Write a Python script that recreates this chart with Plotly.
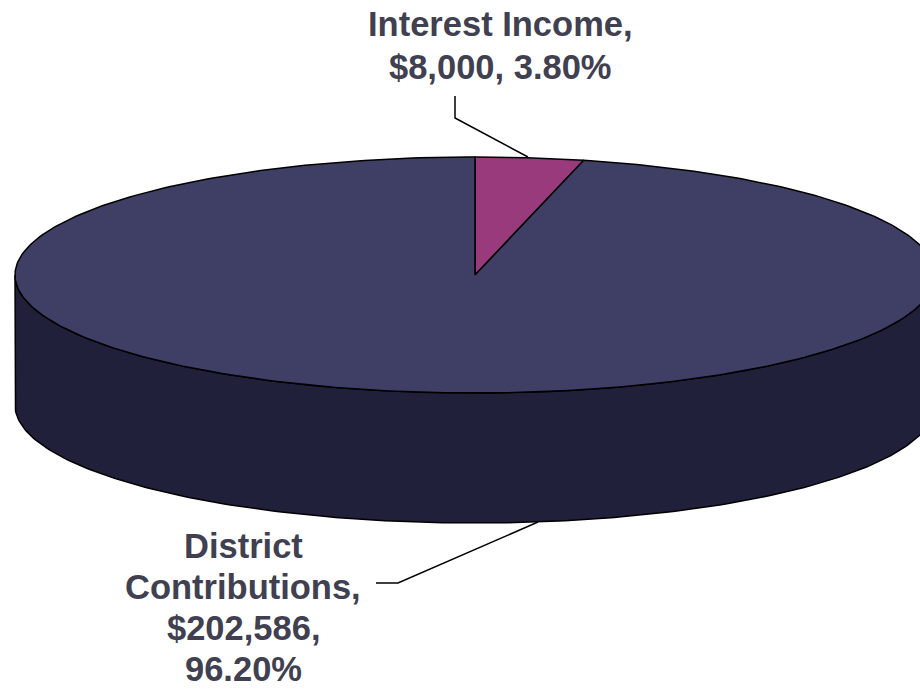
import numpy as np
import plotly.graph_objects as go

# ---- data ----
labels = ["Interest Income", "District Contributions"]
values = [8000, 202586]
label_lines = [["Interest Income,", "$8,000, 3.80%"],
               ["District", "Contributions,", "$202,586,", "96.20%"]]

# ---- styling / geometry ----
top_colors = ["#993A7C", "#3F3F66"]
side_colors = ["#5C2249", "#20203A"]
text_color = "#404050"
W, H = 920, 690
cx, cy, rx, ry, depth = 475, 275, 460, 118, 130

def pt(theta_deg, dy=0):
    t = np.radians(theta_deg)
    return cx + rx * np.sin(t), cy - ry * np.cos(t) + dy

total = float(sum(values))
fracs = [v / total for v in values]
starts = np.concatenate([[0], np.cumsum(fracs)[:-1]]) * 360
ends = np.cumsum(fracs) * 360

fig = go.Figure()

# side walls (front half: theta 90..270) per slice
for i in range(len(values)):
    a0 = max(starts[i], 90)
    a1 = min(ends[i], 270)
    if a1 <= a0:
        continue
    th = np.linspace(a0, a1, 200)
    xs_t, ys_t = pt(th)
    xs_b, ys_b = pt(th[::-1], depth)
    xs = np.concatenate([xs_t, xs_b, [xs_t[0]]])
    ys = np.concatenate([ys_t, ys_b, [ys_t[0]]])
    fig.add_trace(go.Scatter(x=xs, y=ys, fill="toself", fillcolor=side_colors[i],
                             mode="lines", line=dict(color="black", width=1.5),
                             hoverinfo="skip", showlegend=False))

# top faces
for i in range(len(values)):
    th = np.linspace(starts[i], ends[i], 400)
    xa, ya = pt(th)
    xs = np.concatenate([[cx], xa, [cx]])
    ys = np.concatenate([[cy], ya, [cy]])
    fig.add_trace(go.Scatter(x=xs, y=ys, fill="toself", fillcolor=top_colors[i],
                             mode="lines", line=dict(color="black", width=1.5),
                             hoverinfo="skip", showlegend=False, name=labels[i]))

# leader lines
leaders = [
    ([528, 455, 455], [157, 118, 96]),
    ([538, 398, 376], [522, 583, 583]),
]
for lx, ly in leaders:
    fig.add_trace(go.Scatter(x=lx, y=ly, mode="lines",
                             line=dict(color="black", width=1.5),
                             hoverinfo="skip", showlegend=False))

font = dict(family="Liberation Sans, Arial, sans-serif", size=34.5, color=text_color)

# Interest label: line centres from the top
for k, line in enumerate(label_lines[0]):
    fig.add_annotation(x=500, y=24 + k * 42.5, text="<b>" + line + "</b>",
                       showarrow=False, xanchor="center", yanchor="middle", font=font)

# District label: stacked upwards from the bottom edge
n = len(label_lines[1])
for k, line in enumerate(label_lines[1]):
    fig.add_annotation(x=243, y=H - (n - 1 - k) * 41, text="<b>" + line + "</b>",
                       showarrow=False, xanchor="center", yanchor="bottom", font=font)

fig.update_layout(
    width=W, height=H, margin=dict(l=0, r=0, t=0, b=0),
    paper_bgcolor="white", plot_bgcolor="white",
    xaxis=dict(range=[0, W], visible=False, fixedrange=True),
    yaxis=dict(range=[H, 0], visible=False, fixedrange=True),
)

fig.write_html("out.html", config={"displayModeBar": False})

# remove default page margin so the figure fills the window exactly
with open("out.html", "r", encoding="utf-8") as f:
    html = f.read()
html = html.replace("<head>", "<head><style>html,body{margin:0;padding:0;overflow:hidden;}</style>", 1)
with open("out.html", "w", encoding="utf-8") as f:
    f.write(html)
